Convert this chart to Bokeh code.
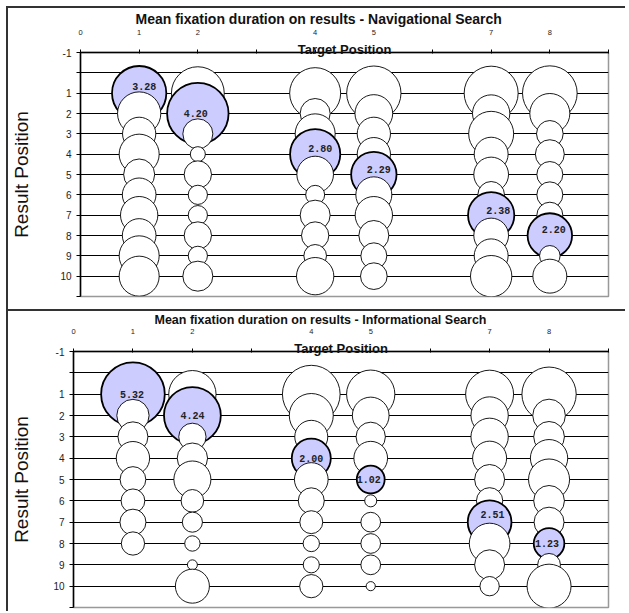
import math
from bokeh.plotting import figure
from bokeh.models import ColumnDataSource, FixedTicker, Range1d, LinearAxis
from bokeh.embed import file_html
from bokeh.resources import INLINE
from bokeh.core.properties import value

# ---------------- data ----------------
target_positions = [1, 2, 4, 5, 7, 8]
result_positions = [1, 2, 3, 4, 5, 6, 7, 8, 9, 10]
x_tick_labels = {0: "0", 1: "1", 2: "2", 3: "", 4: "4", 5: "5", 6: "", 7: "7", 8: "8", 9: ""}
y_tick_labels = {-1: "-1", 0: "", 11: ""}

# mean fixation duration (s), one list per target position, rows = result position 1..10
nav_t1 = [3.28, 2.08, 1.23, 1.78, 1.07, 1.26, 1.55, 1.26, 1.78, 1.78]
nav_t2 = [3.10, 4.20, 1.00, 0.25, 0.83, 0.41, 0.41, 0.83, 0.41, 1.00]
nav_t4 = [2.89, 1.00, 1.78, 2.80, 1.49, 0.40, 1.00, 0.83, 0.57, 1.55]
nav_t5 = [3.28, 1.58, 1.23, 1.23, 2.29, 1.44, 1.55, 1.00, 0.75, 0.79]
nav_t7 = [3.24, 1.55, 2.25, 1.28, 1.34, 0.79, 2.38, 1.34, 1.28, 1.90]
nav_t8 = [3.32, 1.78, 0.79, 0.93, 0.75, 0.75, 0.75, 2.20, 0.47, 1.28]

inf_t1 = [5.32, 1.37, 1.18, 1.46, 0.87, 0.74, 0.89, 0.71, None, None]
inf_t2 = [2.94, 4.24, 0.98, 1.21, 1.80, 0.67, 0.53, 0.31, 0.13, 1.52]
inf_t4 = [4.37, 2.54, 1.43, 2.00, 1.49, 0.89, 0.69, 0.35, 0.34, 0.71]
inf_t5 = [3.06, 1.77, 1.13, 1.49, 1.02, 0.19, 0.51, 0.51, 0.51, 0.11]
inf_t7 = [3.02, 1.83, 1.83, 1.52, 1.18, 0.91, 2.51, 2.17, 1.18, 0.49]
inf_t8 = [3.87, 1.40, 1.24, 1.83, 2.21, 1.24, 1.18, 1.23, 0.68, 2.54]

nav_title = "Mean fixation duration on results - Navigational Search"
inf_title = "Mean fixation duration on results - Informational Search"
x_title = "Target Position"
y_title = "Result Position"

# ---------------- styles ----------------
FONT = "Liberation Sans"
W = 619
HILITE = "#CCCCFF"
nav_label_offsets = [(5, -7), (-2, 0), (5, -6), (5, -5), (7, -5), (4, -6)]
inf_label_offsets = [(-1, 0), (0, 0), (0, 0), (-2, 0), (3, -8), (-2, 0)]


def make_panel(title_text, series, scale, label_offsets, height, min_left, min_top,
               min_bottom, title_size, title_offset, title_standoff, ylab_standoff,
               tick_standoff, styles):
    p = figure(width=W, height=height, x_range=Range1d(0, 9), y_range=Range1d(11, -1),
               x_axis_location="above", output_backend="svg", toolbar_location=None,
               min_border_left=min_left, min_border_right=W - 600, min_border_top=min_top,
               min_border_bottom=min_bottom, title=title_text, styles=styles)
    p.title.align = "left"
    p.title.offset = title_offset
    p.title.text_font = FONT
    p.title.text_font_size = title_size
    p.title.text_font_style = "bold"
    p.title.text_color = "#111111"
    p.title.standoff = title_standoff

    xs, ys, vals, fills, lws = [], [], [], [], []
    lx, ly, lt = [], [], []
    for ri, r in enumerate(result_positions):
        for t, col in zip(target_positions, series):
            v = col[ri]
            if v is None:
                continue
            xs.append(t)
            ys.append(r)
            vals.append(v)
            hi = (t == r)
            fills.append(HILITE if hi else "white")
            lws.append(1.8 if hi else 0.9)
            if hi:
                lx.append(t)
                ly.append(r)
                lt.append(f"{v:.2f}")
    sizes = [2 * scale * math.sqrt(v) for v in vals]
    src = ColumnDataSource(dict(x=xs, y=ys, size=sizes, fill=fills, lw=lws))
    p.scatter("x", "y", size="size", fill_color="fill", line_color="black",
              line_width="lw", source=src)

    lsrc = ColumnDataSource(dict(x=lx, y=ly, text=lt,
                                 dx=[o[0] for o in label_offsets],
                                 dy=[o[1] for o in label_offsets]))
    p.text("x", "y", text="text", x_offset="dx", y_offset="dy", source=lsrc,
           text_align="center", text_baseline="middle",
           text_font=value("Liberation Mono"), text_font_style="bold",
           text_font_size="10px", text_color="#222222")

    ticks = list(x_tick_labels.keys())
    # axis line + ticks + axis title sitting on the line
    xa = p.xaxis[0]
    xa.ticker = FixedTicker(ticks=ticks)
    xa.major_label_overrides = {k: "" for k in ticks}
    xa.major_label_text_font_size = "0px"
    xa.major_label_standoff = 0
    xa.major_tick_out = 3
    xa.major_tick_in = 1
    xa.minor_tick_line_color = None
    xa.axis_line_width = 1.5
    xa.axis_line_color = "black"
    xa.major_tick_line_color = "black"
    xa.axis_label = x_title
    xa.axis_label_standoff = -7
    xa.axis_label_text_font = FONT
    xa.axis_label_text_font_size = "13px"
    xa.axis_label_text_font_style = "bold"
    xa.axis_label_text_color = "#111111"

    # tick numbers above the axis title
    xb = LinearAxis(ticker=FixedTicker(ticks=ticks),
                    major_label_overrides=dict(x_tick_labels),
                    axis_line_color=None, major_tick_line_color=None,
                    minor_tick_line_color=None, major_tick_out=0, major_tick_in=0,
                    major_label_standoff=tick_standoff,
                    major_label_text_font=FONT, major_label_text_font_size="7.5px",
                    major_label_text_color="#222222")
    p.add_layout(xb, "above")

    ya = p.yaxis[0]
    ya.ticker = FixedTicker(ticks=list(range(-1, 12)))
    ya.major_label_overrides = dict(y_tick_labels)
    ya.major_label_text_font = FONT
    ya.major_label_text_font_size = "10px"
    ya.major_label_text_color = "#222222"
    ya.major_label_standoff = 5
    ya.major_tick_out = 4
    ya.major_tick_in = 0
    ya.minor_tick_line_color = None
    ya.axis_line_width = 1.5
    ya.axis_line_color = "black"
    ya.major_tick_line_color = "black"
    ya.axis_label = y_title
    ya.axis_label_text_font = FONT
    ya.axis_label_text_font_size = "19px"
    ya.axis_label_text_font_style = "normal"
    ya.axis_label_text_color = "#111111"
    ya.axis_label_standoff = ylab_standoff

    p.xgrid.grid_line_color = None
    p.ygrid.ticker = FixedTicker(ticks=list(range(0, 11)))
    p.ygrid.grid_line_color = "black"
    p.ygrid.grid_line_width = 1

    p.outline_line_color = "#999999"
    p.outline_line_width = 1.5
    p.background_fill_color = "white"
    p.border_fill_color = None
    return p


border = "2px solid #333333"
p1 = make_panel(nav_title, [nav_t1, nav_t2, nav_t4, nav_t5, nav_t7, nav_t8], 15.0,
                nav_label_offsets, 305, 71, 44, 17, "14px", 55, 0, 25, 4,
                {"border-top": border, "border-left": border, "border-bottom": border,
                 "margin-left": "6px", "margin-top": "6px"})
p2 = make_panel(inf_title, [inf_t1, inf_t2, inf_t4, inf_t5, inf_t7, inf_t8], 13.8,
                inf_label_offsets, 300, 64, 40, 4, "12.5px", 81, -2, 18, 4,
                {"border-left": border, "margin-left": "6px"})

# two separate roots so that the two plot frames are laid out independently
open("out.html", "w").write(file_html([p1, p2], INLINE))
